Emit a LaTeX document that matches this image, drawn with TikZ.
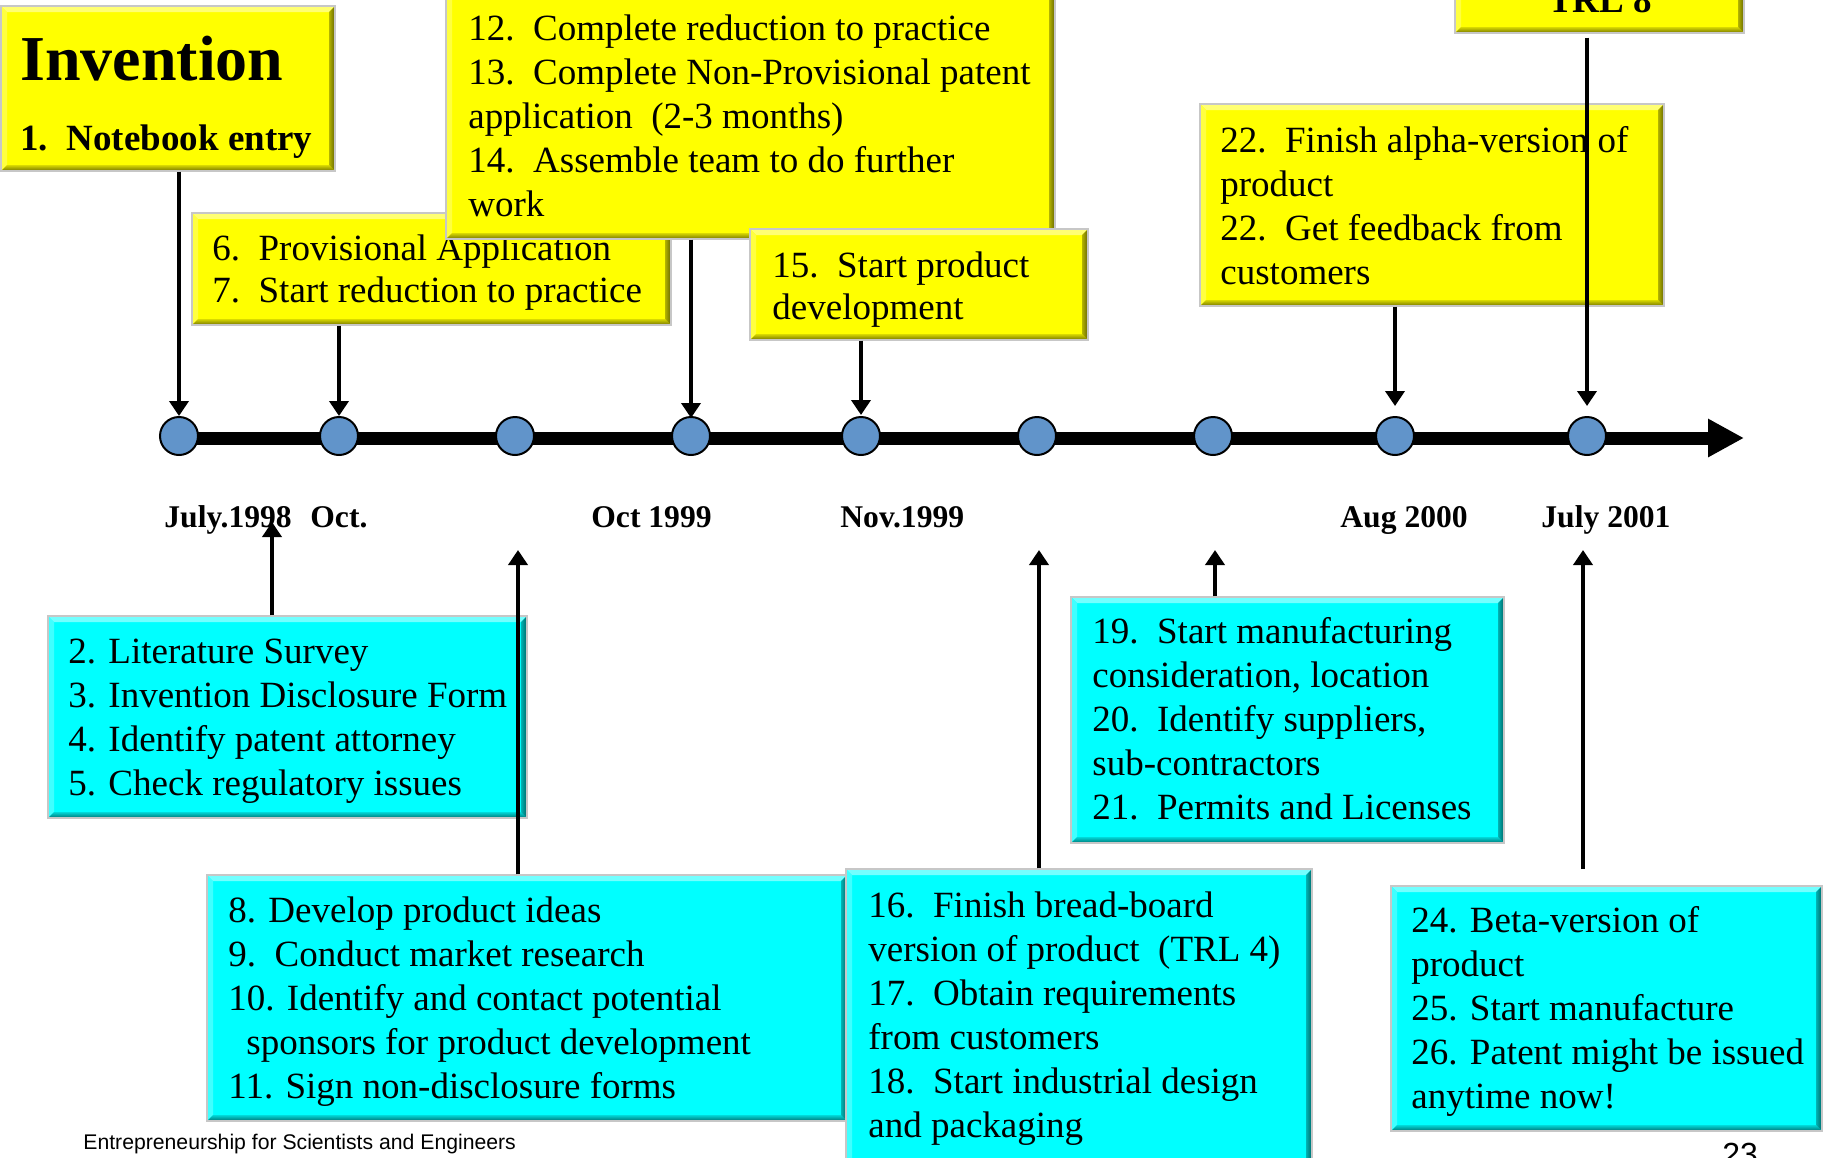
\documentclass[tikz,border=0pt]{standalone}
\usepackage{fontspec}
\setmainfont{Liberation Serif}
\newfontfamily\footfont{Liberation Sans}
\usetikzlibrary{arrows.meta,fit}

\definecolor{boxyellow}{HTML}{FFFF00}
\definecolor{boxcyan}{HTML}{00FFFF}
\definecolor{dotblue}{HTML}{6194CA}

\newcommand{\bodyfont}{\fontsize{18.5pt}{22pt}\selectfont}
\newcommand{\tightfont}{\fontsize{18.5pt}{21pt}\selectfont}
\newcommand{\datefont}{\fontsize{15.8pt}{18pt}\selectfont\bfseries}
\newcommand{\gap}{\ \ }

\begin{document}
\begin{tikzpicture}[x=0.5pt,y=-0.5pt,
  % raised panel: flat face with light top/left and dark bottom/right rims
  bevel/.style={path picture={
    \path (path picture bounding box.north west) coordinate (bNW)
          (path picture bounding box.north east) coordinate (bNE)
          (path picture bounding box.south west) coordinate (bSW)
          (path picture bounding box.south east) coordinate (bSE);
    \fill[#1!55!white] (bNW) -- (bNE) -- ([shift={(-3pt,-3pt)}]bNE) -- ([shift={(3pt,-3pt)}]bNW) -- cycle;
    \fill[#1!75!white] (bNW) -- ([shift={(3pt,-3pt)}]bNW) -- ([shift={(3pt,3pt)}]bSW) -- (bSW) -- cycle;
    \shade[top color=#1!85!black, bottom color=#1!45!black]
      (bSW) -- (bSE) -- ([shift={(-3pt,3pt)}]bSE) -- ([shift={(3pt,3pt)}]bSW) -- cycle;
    \shade[left color=#1!70!black, right color=#1!40!black]
      (bNE) -- (bSE) -- ([shift={(-3pt,3pt)}]bSE) -- ([shift={(-3pt,-3pt)}]bNE) -- cycle;
  }},
  panel/.style={draw=black!22, line width=0.6pt, fill=#1, bevel=#1, inner sep=0pt},
  ybox/.style={panel=boxyellow},
  cbox/.style={panel=boxcyan},
  txt/.style={inner sep=0pt, align=left, anchor=north west, font=\bodyfont},
  ttxt/.style={txt, font=\tightfont},
  dot/.style={circle, draw=black, line width=1pt, fill=dotblue, minimum size=19pt, inner sep=0pt},
  datelbl/.style={inner sep=0pt, anchor=base west, font=\datefont},
  link/.style={line width=2.4pt, -{Triangle[length=7.5pt,width=9.5pt]}},
]
\useasboundingbox (0,0) rectangle (1824,1157);

% ---------- timeline ----------
\coordinate (tlend) at (1744,438);
\coordinate (tlstart) at (179,438);
\draw[line width=6.5pt, -{Triangle[length=18pt,width=18pt]}] (tlstart) -- (tlend);
\foreach \i/\x in {1/179,2/339,3/515,4/691,5/861,6/1037,7/1213,8/1395,9/1587}
  \node[dot] (c\i) at (\x,436) {};

% ---------- dates ----------
\node[datelbl] (d1) at (164,527) {July.1998};
\node[datelbl] (d2) at (310,527) {Oct.};
\node[datelbl] (d3) at (591,527) {Oct 1999};
\node[datelbl] (d4) at (840,527) {Nov.1999};
\node[datelbl] (d5) at (1340,527) {Aug 2000};
\node[datelbl] (d6) at (1541,527) {July 2001};

% ---------- upper (yellow) panels ----------
\node[ybox, fit={(1,6) (335,171)}] (inv) {};
\node[inner sep=0pt, anchor=base west, font=\fontsize{32pt}{36pt}\selectfont\bfseries] (invt) at (20,80) {Invention};
\node[inner sep=0pt, anchor=base west, font=\bodyfont\bfseries] (inv1) at (20,150) {1.\gap Notebook entry};

\node[ybox, fit={(192,213) (671,325)}] (p67) {};
\node[ttxt] (t67) at (212,230.6) {\strut 6.\gap Provisional Application\\7.\gap Start reduction to practice};

\node[ybox, fit={(446,-12) (1055,239)}] (p1214) {};
\node[txt] (t1214) at (468,9.2) {\strut 12.\gap Complete reduction to practice\\13.\gap Complete Non-Provisional patent\\application\gap (2-3 months)\\14.\gap Assemble team to do further\\work};

\node[ybox, fit={(750,229) (1088,340)}] (p15) {};
\node[ttxt] (t15) at (772,247.6) {\strut 15.\gap Start product\\development};

\node[ybox, fit={(1200,104) (1664,306)}] (p22) {};
\node[txt] (t22) at (1220,121.2) {\strut 22.\gap Finish alpha-version of\\product\\22.\gap Get feedback from\\customers};

\node[ybox, fit={(1455,-30) (1744,33)}] (trl) {};
\node[inner sep=0pt, anchor=base, font=\bodyfont\bfseries] (trlt) at (1600,12) {TRL 8};

% ---------- arrows down to the timeline ----------
\draw[link] (c1.north |- inv.south) -- (c1.north);
\draw[link] (c2.north |- p67.south) -- (c2.north);
\draw[link] (c4.north |- p1214.south) -- ([yshift=-1pt]c4.north);
\draw[link, shorten >=0.5pt] (c5.north |- p15.south) -- (c5.north);
\draw[link, shorten >=5pt] (c8.north |- p22.south) -- (c8.north);
\draw[link, shorten <=2pt, shorten >=5pt] (c9.north |- trl.south) -- (c9.north);

% ---------- lower (cyan) panels ----------
\node[cbox, fit={(48,616) (527,818)}] (pA) {};
\node[txt] (tA) at (68,632.2) {\strut 2. Literature Survey\\3. Invention Disclosure Form\\4. Identify patent attorney\\5. Check regulatory issues};

\node[cbox, fit={(207,875) (847,1121)}] (pB) {};
\node[txt] (tB) at (228,891.2) {\strut 8. Develop product ideas\\9.\gap Conduct market research\\10. Identify and contact potential\\\hspace*{9pt}sponsors for product development\\11. Sign non-disclosure forms};

\node[cbox, fit={(846,869) (1312,1180)}] (pC) {};
\node[txt] (tC) at (868,886.2) {\strut 16.\gap Finish bread-board\\version of product\gap (TRL 4)\\17.\gap Obtain requirements\\from customers\\18.\gap Start industrial design\\and packaging};

\node[cbox, fit={(1071,597) (1504,843)}] (pD) {};
\node[txt] (tD) at (1092,612.2) {\strut 19.\gap Start manufacturing\\consideration, location\\20.\gap Identify suppliers,\\sub-contractors\\21.\gap Permits and Licenses};

\node[cbox, fit={(1391,886) (1822,1131)}] (pE) {};
\node[txt] (tE) at (1411,901.2) {\strut 24. Beta-version of\\product\\25. Start manufacture\\26. Patent might be issued\\anytime now!};

% ---------- arrows up towards the timeline ----------
\coordinate (u1) at (272,522);
\coordinate (u2) at (518,550);
\coordinate (u3) at (1039,550);
\coordinate (u4) at (1215,550);
\coordinate (u5) at (1583,550);
\coordinate (s5) at (1583,869);
\draw[link] (u1 |- pA.north) -- (u1);
\draw[link] (u2 |- pB.north) -- (u2);
\draw[link] (u3 |- pC.north) -- (u3);
\draw[link] (u4 |- pD.north) -- (u4);
\draw[link] (s5) -- (u5);

% ---------- footer ----------
\node[inner sep=0pt, anchor=base west, font=\footfont\fontsize{10.6pt}{12pt}\selectfont] (foot) at (83,1149) {Entrepreneurship for Scientists and Engineers};
\node[inner sep=0pt, anchor=base west, font=\footfont\fontsize{16pt}{18pt}\selectfont] (pgno) at (1722,1165) {23};
\end{tikzpicture}
\end{document}
